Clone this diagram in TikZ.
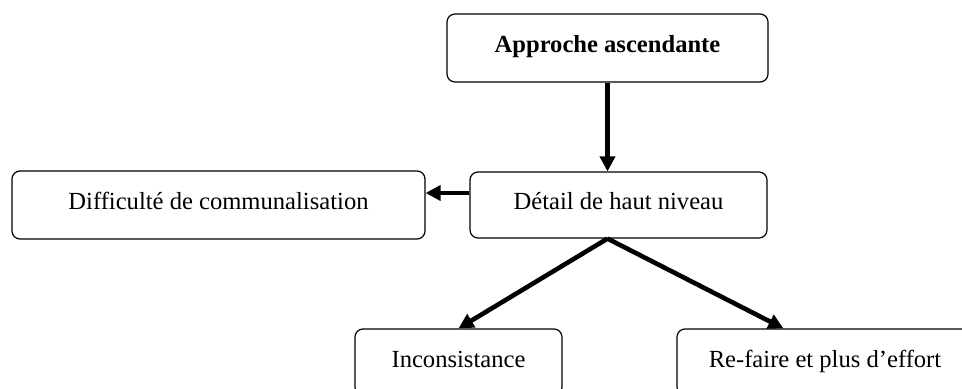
\documentclass[tikz,border=0pt]{standalone}
\usepackage{fontspec}
\setmainfont{Liberation Serif}
\usetikzlibrary{arrows.meta}

\begin{document}
\begin{tikzpicture}[x=1pt,y=1pt,>={Triangle[length=7.5pt,width=7.5pt]},
    box node/.style={draw,rounded corners=4pt,line width=0.6pt,font=\fontsize{12.3}{14}\selectfont,
        minimum height=34pt,text height=8.5pt,text depth=3.5pt,inner sep=0pt},
    link/.style={->,line width=2.3pt}]
    \useasboundingbox (0,0) rectangle (481,-194.5);

    \node[box node,minimum width=160.5pt,font=\fontsize{12.3}{14}\selectfont\bfseries] (appr) at (303.75,-24) {Approche ascendante};
    \node[box node,minimum width=148.5pt,minimum height=33pt] (detail) at (309.25,-102.5) {Détail de haut niveau};
    \node[box node,minimum width=206.5pt] (diff) at (109.25,-102.5) {Difficulté de communalisation};
    \node[box node,minimum width=103.5pt,minimum height=33pt] (incons) at (229.25,-181) {Inconsistance};
    \node[box node,minimum width=148pt,minimum height=33pt] (refaire) at (412.5,-181) {Re-faire et plus d’effort};

    \coordinate (split) at (appr.south |- detail.south);

    \draw[link] (appr.south) -- (appr.south |- detail.north);
    \draw[link] ([yshift=6pt]detail.west) -- ([yshift=6pt]diff.east);
    \draw[link] (split) -- (incons.north);
    \draw[link] (split) -- ([xshift=53.5pt]refaire.north west);
\end{tikzpicture}
\end{document}
